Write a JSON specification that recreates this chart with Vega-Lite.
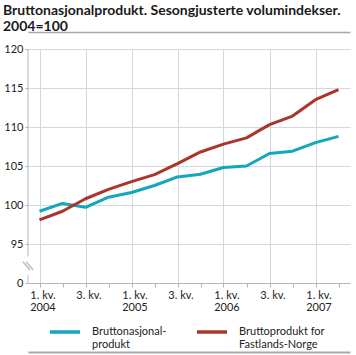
{
  "$schema": "https://vega.github.io/schema/vega-lite/v6.json",
  "width": 322,
  "height": 234,
  "autosize": {"type": "none"},
  "padding": {"left": 28, "top": 49, "right": 6, "bottom": 72},
  "background": "white",
  "title": {
    "text": ["Bruttonasjonalprodukt. Sesongjusterte volumindekser.", "2004=100"],
    "anchor": "start",
    "frame": "group",
    "dx": -25,
    "dy": 2,
    "offset": 0,
    "font": "Lato",
    "fontSize": 14,
    "fontWeight": "bold",
    "color": "#1a1a1a",
    "lineHeight": 16
  },
  "config": {
    "view": {"stroke": null},
    "font": "Lato"
  },
  "data": {
    "values": [
      {"q": 1, "serie": "BNP", "v": 99.2},
      {"q": 2, "serie": "BNP", "v": 100.2},
      {"q": 3, "serie": "BNP", "v": 99.7},
      {"q": 4, "serie": "BNP", "v": 101.0},
      {"q": 5, "serie": "BNP", "v": 101.6},
      {"q": 6, "serie": "BNP", "v": 102.5},
      {"q": 7, "serie": "BNP", "v": 103.6},
      {"q": 8, "serie": "BNP", "v": 103.95},
      {"q": 9, "serie": "BNP", "v": 104.8},
      {"q": 10, "serie": "BNP", "v": 105.0},
      {"q": 11, "serie": "BNP", "v": 106.6},
      {"q": 12, "serie": "BNP", "v": 106.9},
      {"q": 13, "serie": "BNP", "v": 108.0},
      {"q": 14, "serie": "BNP", "v": 108.8},
      {"q": 1, "serie": "FN", "v": 98.1},
      {"q": 2, "serie": "FN", "v": 99.2},
      {"q": 3, "serie": "FN", "v": 100.8},
      {"q": 4, "serie": "FN", "v": 102.0},
      {"q": 5, "serie": "FN", "v": 103.0},
      {"q": 6, "serie": "FN", "v": 103.9},
      {"q": 7, "serie": "FN", "v": 105.3},
      {"q": 8, "serie": "FN", "v": 106.8},
      {"q": 9, "serie": "FN", "v": 107.8},
      {"q": 10, "serie": "FN", "v": 108.6},
      {"q": 11, "serie": "FN", "v": 110.3},
      {"q": 12, "serie": "FN", "v": 111.4},
      {"q": 13, "serie": "FN", "v": 113.5},
      {"q": 14, "serie": "FN", "v": 114.8}
    ]
  },
  "resolve": {"axis": {"x": "independent", "y": "independent"}},
  "layer": [
    {
      "mark": {"type": "line", "strokeWidth": 3, "strokeJoin": "round"},
      "encoding": {
        "x": {
          "field": "q",
          "type": "quantitative",
          "scale": {"domain": [0.5, 14.5], "nice": false, "zero": false},
          "axis": {
            "title": null,
            "values": [1, 2, 3, 4, 5, 6, 7, 8, 9, 10, 11, 12, 13, 14],
            "labelExpr": "datum.value % 4 == 1 ? ['1. kv.', '' + (2004 + (datum.value - 1) / 4)] : (datum.value % 4 == 3 ? '3. kv.' : '')",
            "labelAlign": "center",
            "labelOffset": 3,
            "labelFontSize": 11,
            "labelColor": "#222222",
            "labelLineHeight": 12.5,
            "labelPadding": 2,
            "labelBaseline": "top",
            "labelFlush": false,
            "labelOverlap": false,
            "tickSize": 4,
            "tickColor": "#b4b6be",
            "domainColor": "#b4b6be",
            "grid": true,
            "gridColor": "#d5d7de",
            "gridOpacity": {"condition": {"test": "datum.value % 2 == 0", "value": 0}, "value": 1}
          }
        },
        "y": {
          "field": "v",
          "type": "quantitative",
          "scale": {"domain": [90, 120], "nice": false, "zero": false},
          "axis": {
            "title": null,
            "values": [90, 95, 100, 105, 110, 115, 120],
            "labelExpr": "datum.value == 90 ? '0' : datum.label",
            "labelFontSize": 11,
            "labelColor": "#222222",
            "labelPadding": 2,
            "tickSize": 3,
            "tickColor": "#b4b6be",
            "domain": false,
            "grid": true,
            "gridColor": "#d5d7de",
            "gridOpacity": {"condition": {"test": "datum.value == 90", "value": 0}, "value": 1}
          }
        },
        "color": {
          "field": "serie",
          "type": "nominal",
          "scale": {"domain": ["BNP", "FN"], "range": ["#14a6ba", "#a8362c"]},
          "legend": {
            "title": null,
            "orient": "none",
            "legendX": 20,
            "legendY": 266,
            "direction": "horizontal",
            "columns": 2,
            "columnPadding": 23,
            "symbolType": "stroke",
            "symbolSize": 900,
            "symbolStrokeWidth": 3.5,
            "labelOffset": 10,
            "labelFontSize": 11,
            "labelColor": "#222222",
            "labelBaseline": "middle",
            "labelLimit": 200,
            "labelExpr": "datum.value == 'BNP' ? ['Bruttonasjonal-', 'produkt'] : ['Bruttoprodukt for', 'Fastlands-Norge']"
          }
        }
      }
    },
    {
      "data": {"values": [{}]},
      "mark": {"type": "rule", "color": "#b4b6be", "strokeWidth": 1},
      "encoding": {
        "x": {
          "datum": 0.5,
          "type": "quantitative",
          "axis": {
            "orient": "top",
            "offset": 17,
            "title": null,
            "labels": false,
            "ticks": false,
            "grid": false,
            "domainColor": "#a9a9a9",
            "domainWidth": 1.5
          }
        },
        "y": {"datum": 93.4, "type": "quantitative", "axis": null},
        "y2": {"datum": 120}
      }
    },
    {
      "data": {"values": [{}]},
      "mark": {"type": "rule", "color": "#b4b6be", "strokeWidth": 1},
      "encoding": {
        "x": {
          "datum": 0.5,
          "type": "quantitative",
          "axis": {
            "orient": "bottom",
            "offset": 69,
            "title": null,
            "labels": false,
            "ticks": false,
            "grid": false,
            "domainColor": "#a9a9a9",
            "domainWidth": 2
          }
        },
        "y": {"datum": 90, "type": "quantitative", "axis": null},
        "y2": {"datum": 91.0}
      }
    },
    {
      "data": {"values": [{}]},
      "mark": {
        "type": "point",
        "shape": "M-1,-0.8L0.4,0.8M-0.4,-0.8L1,0.8",
        "filled": false,
        "color": "#b4b6be",
        "strokeWidth": 1.3,
        "size": 110,
        "opacity": 1
      },
      "encoding": {
        "x": {"datum": 0.5, "type": "quantitative", "axis": null},
        "y": {"datum": 92.2, "type": "quantitative", "axis": null}
      }
    }
  ]
}
